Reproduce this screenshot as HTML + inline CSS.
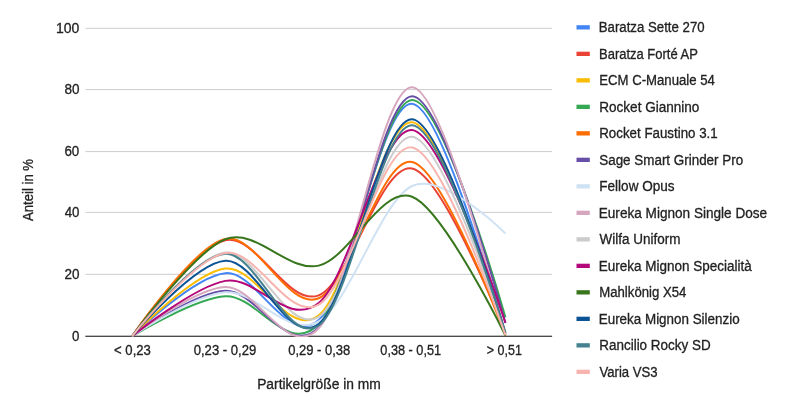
<!DOCTYPE html>
<html><head><meta charset="utf-8"><title>Chart</title>
<style>html,body{margin:0;padding:0;background:#fff;}body{width:800px;height:414px;overflow:hidden;}svg{display:block;will-change:transform;opacity:0.999;}text{font-family:"Liberation Sans",sans-serif;stroke:#222222;stroke-width:0.3px;}</style></head><body>
<svg width="800" height="414" viewBox="0 0 800 414">
<rect x="0" y="0" width="800" height="414" fill="#ffffff"/>
<defs><clipPath id="cp"><rect x="85.33" y="27.80" width="466.77" height="309.20"/></clipPath></defs>
<rect x="85.33" y="273.83" width="466.77" height="1" fill="#cccccc"/>
<rect x="85.33" y="211.90" width="466.77" height="1" fill="#cccccc"/>
<rect x="85.33" y="151.10" width="466.77" height="1" fill="#cccccc"/>
<rect x="85.33" y="89.10" width="466.77" height="1" fill="#cccccc"/>
<rect x="85.33" y="27.80" width="466.77" height="1" fill="#cccccc"/>
<rect x="85.33" y="335.65" width="466.77" height="1.3" fill="#444444"/>
<g clip-path="url(#cp)" fill="none" stroke-width="2" stroke-linecap="butt">
<path d="M132.01,336.30C132.01,336.30,194.24,275.88,225.36,273.16C256.48,270.44,287.60,348.21,318.72,319.98C349.83,291.74,380.95,101.19,412.07,103.76C443.19,106.33,505.42,335.38,505.42,335.38" stroke="#4285F4"/>
<path d="M132.01,336.30C132.01,336.30,194.24,247.03,225.36,240.20C256.48,233.38,287.60,307.30,318.72,295.34C349.83,283.38,380.95,162.13,412.07,168.44C443.19,174.75,505.42,333.22,505.42,333.22" stroke="#EA4335"/>
<path d="M132.01,336.30C132.01,336.30,194.24,272.03,225.36,268.54C256.48,265.05,287.60,339.74,318.72,315.36C349.83,290.97,380.95,119.37,412.07,122.24C443.19,125.11,505.42,332.60,505.42,332.60" stroke="#FBBC04"/>
<path d="M132.01,336.30C132.01,336.30,194.24,298.26,225.36,296.26C256.48,294.26,287.60,356.99,318.72,324.29C349.83,291.59,380.95,101.22,412.07,100.06C443.19,98.91,505.42,317.36,505.42,317.36" stroke="#34A853"/>
<path d="M132.01,336.30C132.01,336.30,194.24,245.31,225.36,238.97C256.48,232.63,287.60,311.10,318.72,298.26C349.83,285.43,380.95,155.79,412.07,161.97C443.19,168.16,505.42,335.38,505.42,335.38" stroke="#FF6D01"/>
<path d="M132.01,336.30C132.01,336.30,194.24,292.20,225.36,290.72C256.48,289.23,287.60,359.76,318.72,327.37C349.83,294.98,380.95,97.09,412.07,96.37C443.19,95.65,505.42,323.06,505.42,323.06" stroke="#674EA7"/>
<path d="M132.01,336.30C132.01,336.30,194.24,294.75,225.36,292.26C256.48,289.77,287.60,339.07,318.72,321.36C349.83,303.65,380.95,200.65,412.07,186.00C443.19,171.34,505.42,233.43,505.42,233.43" stroke="#CFE2F3"/>
<path d="M132.01,336.30C132.01,336.30,194.24,288.35,225.36,287.02C256.48,285.69,287.60,361.58,318.72,328.29C349.83,295.00,380.95,86.26,412.07,87.28C443.19,88.31,505.42,334.45,505.42,334.45" stroke="#D5A6BD"/>
<path d="M132.01,336.30C132.01,336.30,194.24,255.76,225.36,252.52C256.48,249.29,287.60,336.20,318.72,316.90C349.83,297.59,380.95,134.00,412.07,136.72C443.19,139.44,505.42,333.22,505.42,333.22" stroke="#CCCCCC"/>
<path d="M132.01,336.30C132.01,336.30,194.24,286.40,225.36,280.86C256.48,275.32,287.60,328.19,318.72,303.04C349.83,277.88,380.95,126.65,412.07,129.94C443.19,133.23,505.42,322.75,505.42,322.75" stroke="#B4077A"/>
<path d="M132.01,336.30C132.01,336.30,194.24,251.06,225.36,239.28C256.48,227.50,287.60,272.70,318.72,265.61C349.83,258.53,380.95,185.10,412.07,196.78C443.19,208.45,505.42,335.68,505.42,335.68" stroke="#38761D"/>
<path d="M132.01,336.30C132.01,336.30,194.24,262.89,225.36,260.84C256.48,258.79,287.60,347.59,318.72,323.98C349.83,300.37,380.95,117.67,412.07,119.16C443.19,120.65,505.42,332.91,505.42,332.91" stroke="#0B5394"/>
<path d="M132.01,336.30C132.01,336.30,194.24,255.55,225.36,253.76C256.48,251.96,287.60,346.93,318.72,325.52C349.83,304.11,380.95,124.09,412.07,125.32C443.19,126.55,505.42,332.91,505.42,332.91" stroke="#45818E"/>
<path d="M132.01,336.30C132.01,336.30,194.24,258.27,225.36,252.99C256.48,247.70,287.60,322.16,318.72,304.58C349.83,286.99,380.95,142.41,412.07,147.50C443.19,152.58,505.42,335.07,505.42,335.07" stroke="#F7B4AE"/>
</g>
<text x="71.90" y="341.00" font-size="14" textLength="7.41" lengthAdjust="spacingAndGlyphs" fill="#222222">0</text>
<text x="64.40" y="279.03" font-size="14" textLength="15.00" lengthAdjust="spacingAndGlyphs" fill="#222222">20</text>
<text x="64.65" y="217.10" font-size="14" textLength="14.76" lengthAdjust="spacingAndGlyphs" fill="#222222">40</text>
<text x="64.40" y="156.30" font-size="14" textLength="14.83" lengthAdjust="spacingAndGlyphs" fill="#222222">60</text>
<text x="64.40" y="94.30" font-size="14" textLength="15.03" lengthAdjust="spacingAndGlyphs" fill="#222222">80</text>
<text x="56.05" y="33.00" font-size="14" textLength="23.34" lengthAdjust="spacingAndGlyphs" fill="#222222">100</text>
<text x="114.06" y="354.80" font-size="14" textLength="36.82" lengthAdjust="spacingAndGlyphs" fill="#222222">&lt; 0,23</text>
<text x="193.71" y="354.80" font-size="14" textLength="62.54" lengthAdjust="spacingAndGlyphs" fill="#222222">0,23 - 0,29</text>
<text x="288.17" y="354.80" font-size="14" textLength="62.14" lengthAdjust="spacingAndGlyphs" fill="#222222">0,29 - 0,38</text>
<text x="380.32" y="354.80" font-size="14" textLength="60.77" lengthAdjust="spacingAndGlyphs" fill="#222222">0,38 - 0,51</text>
<text x="486.86" y="354.80" font-size="14" textLength="34.98" lengthAdjust="spacingAndGlyphs" fill="#222222">&gt; 0,51</text>
<text x="257.15" y="389.10" font-size="14" textLength="123.65" lengthAdjust="spacingAndGlyphs" fill="#222222">Partikelgröße in mm</text>
<text transform="translate(33.4,220.90) rotate(-90)" font-size="14" textLength="61.90" lengthAdjust="spacingAndGlyphs" fill="#222222">Anteil in %</text>
<rect x="576.5" y="25.20" width="13.3" height="4.3" fill="#4285F4"/>
<text x="598.75" y="32.10" font-size="14" textLength="105.89" lengthAdjust="spacingAndGlyphs" fill="#222222">Baratza Sette 270</text>
<rect x="576.5" y="51.70" width="13.3" height="4.3" fill="#EA4335"/>
<text x="599.00" y="58.60" font-size="14" textLength="98.89" lengthAdjust="spacingAndGlyphs" fill="#222222">Baratza Forté AP</text>
<rect x="576.5" y="78.20" width="13.3" height="4.3" fill="#FBBC04"/>
<text x="599.25" y="85.10" font-size="14" textLength="115.64" lengthAdjust="spacingAndGlyphs" fill="#222222">ECM C-Manuale 54</text>
<rect x="576.5" y="104.70" width="13.3" height="4.3" fill="#34A853"/>
<text x="599.25" y="111.60" font-size="14" textLength="100.15" lengthAdjust="spacingAndGlyphs" fill="#222222">Rocket Giannino</text>
<rect x="576.5" y="131.20" width="13.3" height="4.3" fill="#FF6D01"/>
<text x="599.25" y="138.10" font-size="14" textLength="118.40" lengthAdjust="spacingAndGlyphs" fill="#222222">Rocket Faustino 3.1</text>
<rect x="576.5" y="157.70" width="13.3" height="4.3" fill="#674EA7"/>
<text x="599.25" y="164.60" font-size="14" textLength="143.89" lengthAdjust="spacingAndGlyphs" fill="#222222">Sage Smart Grinder Pro</text>
<rect x="576.5" y="184.20" width="13.3" height="4.3" fill="#CFE2F3"/>
<text x="599.25" y="191.10" font-size="14" textLength="75.40" lengthAdjust="spacingAndGlyphs" fill="#222222">Fellow Opus</text>
<rect x="576.5" y="210.70" width="13.3" height="4.3" fill="#D5A6BD"/>
<text x="598.75" y="217.60" font-size="14" textLength="168.40" lengthAdjust="spacingAndGlyphs" fill="#222222">Eureka Mignon Single Dose</text>
<rect x="576.5" y="237.20" width="13.3" height="4.3" fill="#CCCCCC"/>
<text x="599.50" y="244.10" font-size="14" textLength="80.89" lengthAdjust="spacingAndGlyphs" fill="#222222">Wilfa Uniform</text>
<rect x="576.5" y="263.70" width="13.3" height="4.3" fill="#B4077A"/>
<text x="598.75" y="270.60" font-size="14" textLength="152.89" lengthAdjust="spacingAndGlyphs" fill="#222222">Eureka Mignon Specialità</text>
<rect x="576.5" y="290.20" width="13.3" height="4.3" fill="#38761D"/>
<text x="599.25" y="297.10" font-size="14" textLength="87.14" lengthAdjust="spacingAndGlyphs" fill="#222222">Mahlkönig X54</text>
<rect x="576.5" y="316.70" width="13.3" height="4.3" fill="#0B5394"/>
<text x="598.75" y="323.60" font-size="14" textLength="140.89" lengthAdjust="spacingAndGlyphs" fill="#222222">Eureka Mignon Silenzio</text>
<rect x="576.5" y="343.20" width="13.3" height="4.3" fill="#45818E"/>
<text x="599.25" y="350.10" font-size="14" textLength="111.40" lengthAdjust="spacingAndGlyphs" fill="#222222">Rancilio Rocky SD</text>
<rect x="576.5" y="369.70" width="13.3" height="4.3" fill="#F7B4AE"/>
<text x="599.50" y="376.60" font-size="14" textLength="58.14" lengthAdjust="spacingAndGlyphs" fill="#222222">Varia VS3</text>
</svg></body></html>
